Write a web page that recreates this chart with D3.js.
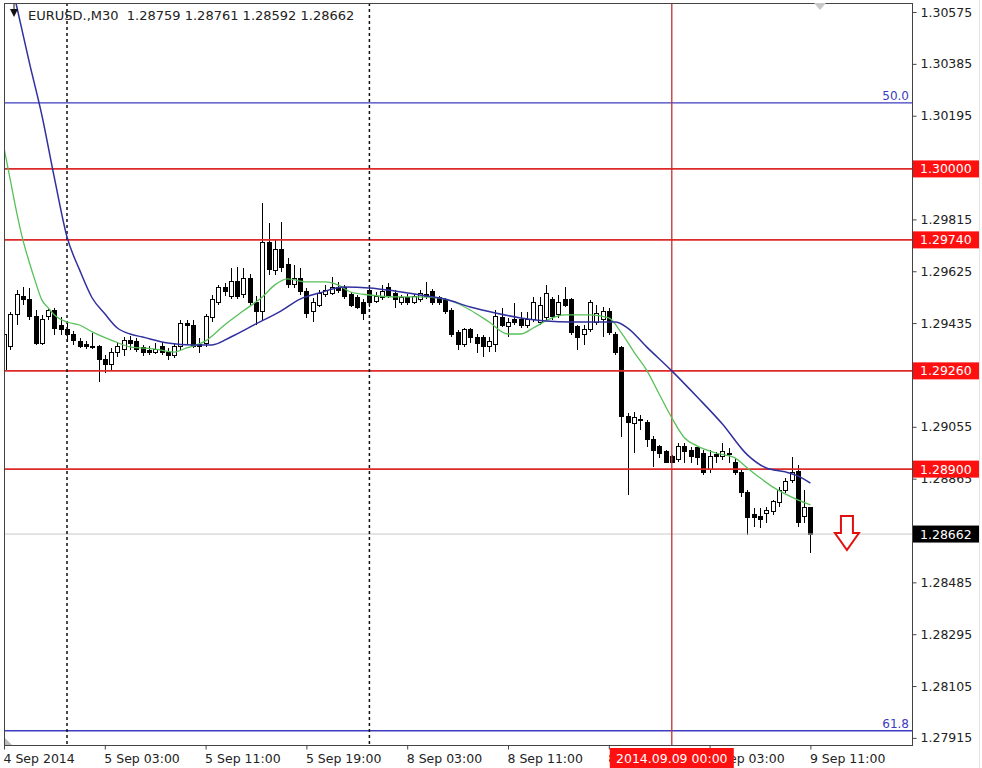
<!DOCTYPE html>
<html><head><meta charset="utf-8">
<script src="https://cdn.jsdelivr.net/npm/d3@7"></script>
<style>body{margin:0;background:#fff}svg{display:block}</style>
</head><body><svg id="c" width="982" height="768"></svg>
<script>
// ---- data (M30 candles, bar index 0 = 4 Sep 19:00 ... 128 = 9 Sep 11:00) ----
const open=[1.29263,1.29348,1.29465,1.29534,1.29520,1.29458,1.29362,1.29458,1.29480,1.29425,
1.29410,1.29395,1.29366,1.29355,1.29351,1.29348,1.29300,1.29282,1.29329,1.29337,
1.29370,1.29366,1.29344,1.29333,1.29329,1.29351,1.29329,1.29315,1.29348,1.29432,
1.29428,1.29355,1.29359,1.29454,1.29512,1.29564,1.29534,1.29586,1.29538,1.29600,
1.29512,1.29476,1.29732,1.29626,1.29703,1.29648,1.29575,1.29600,1.29549,1.29476,
1.29501,1.29538,1.29545,1.29567,1.29564,1.29538,1.29527,1.29512,1.29553,1.29516,
1.29527,1.29564,1.29545,1.29512,1.29527,1.29512,1.29520,1.29538,1.29549,1.29527,
1.29520,1.29483,1.29399,1.29355,1.29410,1.29384,1.29384,1.29348,1.29355,1.29454,
1.29421,1.29447,1.29447,1.29428,1.29447,1.29439,1.29454,1.29520,1.29465,1.29520,
1.29520,1.29421,1.29392,1.29410,1.29439,1.29447,1.29476,1.29392,1.29344,1.29091,
1.29066,1.29080,1.29069,1.29007,1.28981,1.28963,1.28945,1.28934,1.28981,1.28970,
1.28978,1.28959,1.28897,1.28952,1.28945,1.28959,1.28926,1.28886,1.28816,1.28732,
1.28728,1.28736,1.28743,1.28776,1.28823,1.28860,1.28890,1.28725,1.28759];
const high=[1.29410,1.29476,1.29556,1.29567,1.29564,1.29483,1.29465,1.29491,1.29491,1.29458,
1.29436,1.29406,1.29381,1.29370,1.29399,1.29355,1.29318,1.29344,1.29366,1.29384,
1.29388,1.29381,1.29355,1.29351,1.29362,1.29366,1.29344,1.29362,1.29447,1.29447,
1.29447,1.29381,1.29469,1.29538,1.29575,1.29582,1.29637,1.29641,1.29637,1.29615,
1.29534,1.29875,1.29802,1.29740,1.29806,1.29674,1.29648,1.29637,1.29564,1.29527,
1.29556,1.29575,1.29604,1.29586,1.29575,1.29549,1.29538,1.29523,1.29567,1.29549,
1.29575,1.29582,1.29556,1.29538,1.29542,1.29542,1.29556,1.29586,1.29560,1.29534,
1.29527,1.29491,1.29410,1.29417,1.29417,1.29395,1.29392,1.29384,1.29483,1.29491,
1.29454,1.29509,1.29476,1.29476,1.29531,1.29531,1.29575,1.29531,1.29538,1.29567,
1.29527,1.29428,1.29428,1.29520,1.29501,1.29494,1.29491,1.29403,1.29351,1.29106,
1.29110,1.29099,1.29080,1.29022,1.28989,1.28970,1.28952,1.28996,1.28996,1.28981,
1.28981,1.28970,1.28970,1.28963,1.28996,1.28978,1.28941,1.28897,1.28823,1.28758,
1.28758,1.28761,1.28787,1.28835,1.28868,1.28945,1.28915,1.28823,1.28761];
const low=[1.29234,1.29337,1.29428,1.29501,1.29447,1.29355,1.29355,1.29447,1.29392,1.29392,
1.29366,1.29355,1.29344,1.29340,1.29340,1.29220,1.29252,1.29263,1.29311,1.29315,
1.29337,1.29329,1.29315,1.29318,1.29322,1.29318,1.29300,1.29307,1.29337,1.29355,
1.29344,1.29326,1.29348,1.29439,1.29501,1.29534,1.29523,1.29523,1.29527,1.29501,
1.29428,1.29447,1.29611,1.29611,1.29622,1.29564,1.29564,1.29538,1.29454,1.29439,
1.29494,1.29531,1.29538,1.29545,1.29523,1.29494,1.29487,1.29447,1.29494,1.29509,
1.29520,1.29527,1.29491,1.29501,1.29501,1.29505,1.29512,1.29523,1.29501,1.29501,
1.29469,1.29384,1.29337,1.29348,1.29362,1.29326,1.29311,1.29329,1.29329,1.29421,
1.29384,1.29428,1.29417,1.29417,1.29439,1.29428,1.29447,1.29447,1.29454,1.29494,
1.29392,1.29337,1.29355,1.29403,1.29428,1.29384,1.29392,1.29318,1.29018,1.28805,
1.28959,1.29044,1.28981,1.28908,1.28941,1.28923,1.28923,1.28926,1.28923,1.28923,
1.28915,1.28879,1.28886,1.28923,1.28934,1.28923,1.28879,1.28798,1.28659,1.28688,
1.28684,1.28703,1.28732,1.28761,1.28813,1.28849,1.28688,1.28703,1.28592];
const close=[1.29392,1.29465,1.29538,1.29520,1.29458,1.29362,1.29447,1.29480,1.29417,1.29410,
1.29392,1.29370,1.29351,1.29348,1.29348,1.29300,1.29285,1.29329,1.29351,1.29370,
1.29362,1.29337,1.29326,1.29329,1.29340,1.29326,1.29318,1.29351,1.29432,1.29425,
1.29351,1.29348,1.29458,1.29523,1.29564,1.29549,1.29586,1.29534,1.29597,1.29512,
1.29476,1.29732,1.29630,1.29703,1.29637,1.29575,1.29600,1.29549,1.29472,1.29512,
1.29545,1.29556,1.29564,1.29556,1.29531,1.29501,1.29494,1.29472,1.29512,1.29534,
1.29549,1.29534,1.29523,1.29527,1.29512,1.29531,1.29545,1.29531,1.29509,1.29509,
1.29476,1.29392,1.29355,1.29410,1.29381,1.29362,1.29348,1.29366,1.29458,1.29428,
1.29439,1.29436,1.29428,1.29447,1.29512,1.29501,1.29545,1.29458,1.29512,1.29501,
1.29399,1.29384,1.29410,1.29509,1.29472,1.29476,1.29399,1.29329,1.29091,1.29069,
1.29088,1.29077,1.29007,1.28970,1.28959,1.28926,1.28926,1.28981,1.28963,1.28945,
1.28941,1.28886,1.28945,1.28945,1.28963,1.28952,1.28886,1.28813,1.28721,1.28721,
1.28717,1.28750,1.28780,1.28823,1.28853,1.28886,1.28703,1.28758,1.28662];

// moving averages (bar index, price)
const maFastBars=[0,1,2,3,4,5,6,7,8,10,12,14,17,20,24,27,29,32,35,38,41,43,45,48,51,53,55,58,62,66,69,71,74,77,80,82,84,87,89,93,96,98,100,102,104,106,108,110,113,116,118,120,122,124,126,128];
const maFastValues=[1.30077,1.29960,1.29842,1.29740,1.29659,1.29586,1.29520,1.29491,1.29465,1.29439,1.29428,1.29403,1.29373,1.29348,1.29340,1.29329,1.29344,1.29370,1.29428,1.29480,1.29531,1.29575,1.29597,1.29586,1.29586,1.29575,1.29549,1.29538,1.29531,1.29531,1.29527,1.29516,1.29483,1.29439,1.29395,1.29395,1.29417,1.29454,1.29465,1.29465,1.29454,1.29399,1.29329,1.29263,1.29175,1.29088,1.29015,1.28985,1.28959,1.28941,1.28904,1.28868,1.28835,1.28809,1.28787,1.28769];
const maSlowBars=[1,2,4,6,8,10,12,14,16,18,20,22,26,30,33,36,40,44,47,50,54,58,62,66,70,74,78,82,86,90,94,97,99,102,106,110,114,118,121,124,126,128];
const maSlowValues=[1.30700,1.30597,1.30392,1.30198,1.29967,1.29751,1.29630,1.29527,1.29469,1.29417,1.29395,1.29384,1.29362,1.29355,1.29355,1.29384,1.29432,1.29480,1.29523,1.29545,1.29567,1.29564,1.29553,1.29538,1.29523,1.29494,1.29472,1.29454,1.29443,1.29439,1.29439,1.29439,1.29417,1.29348,1.29260,1.29165,1.29066,1.28952,1.28904,1.28890,1.28875,1.28849];

const xTickBars=[0,16,32,48,64,80,96,112,128];
const xTickLabels=["4 Sep 2014","5 Sep 03:00","5 Sep 11:00","5 Sep 19:00","8 Sep 03:00","8 Sep 11:00","8 Sep 19:00","9 Sep 03:00","9 Sep 11:00"];
const yTickValues=[1.30575,1.30385,1.30195,1.30005,1.29815,1.29625,1.29435,1.29245,1.29055,1.28865,1.28675,1.28485,1.28295,1.28105,1.27915];
const redLevels=[1.30000,1.29740,1.29260,1.28900];
const fibLevels=[1.30242,1.27941];
const fibLabels=["50.0","61.8"];
const currentPrice=1.28662;
const daySeparatorBars=[10,58];
const cursorBar=106;
const cursorLabel="2014.09.09 00:00";
const titleText="EURUSD.,M30  1.28759 1.28761 1.28592 1.28662";
const arrowBar=133.8, arrowPrice=1.28728;

// ---- layout ----
const L=4,R=912,T=3,B=745;
const FONT='"DejaVu Sans", Verdana, sans-serif';
const svg=d3.select("#c");
svg.append("rect").attr("width",982).attr("height",768).attr("fill","#fff");
const x=d3.scaleLinear().domain([0,128]).range([4,810.4]);
const y=d3.scaleLinear().domain([1.27889,1.30608]).range([B,T]);

svg.append("clipPath").attr("id","pc").append("rect").attr("x",L).attr("y",T).attr("width",R-L).attr("height",B-T);
const plot=svg.append("g").attr("clip-path","url(#pc)");

// candles
const bars=d3.range(open.length);
const cg=plot.append("g").attr("shape-rendering","crispEdges");
cg.selectAll("line").data(bars).join("line")
  .attr("x1",i=>Math.round(x(i))+0.5).attr("x2",i=>Math.round(x(i))+0.5)
  .attr("y1",i=>y(high[i])).attr("y2",i=>y(low[i]))
  .attr("stroke","#000").attr("stroke-width",1);
cg.selectAll("rect").data(bars).join("rect")
  .attr("x",i=>Math.round(x(i))-1.5).attr("width",4)
  .attr("y",i=>y(Math.max(open[i],close[i])))
  .attr("height",i=>Math.max(1,Math.abs(y(open[i])-y(close[i]))))
  .attr("fill",i=>close[i]>=open[i]?"#fff":"#000")
  .attr("stroke","#000").attr("stroke-width",1);

// horizontal levels
plot.selectAll(".fib").data(fibLevels).join("line").attr("class","fib")
  .attr("x1",L).attr("x2",R).attr("y1",d=>y(d)).attr("y2",d=>y(d))
  .attr("stroke","#3c3cc0").attr("stroke-width",1.4);
plot.selectAll(".red").data(redLevels).join("line").attr("class","red")
  .attr("x1",L).attr("x2",R).attr("y1",d=>y(d)).attr("y2",d=>y(d))
  .attr("stroke","#dd2a2a").attr("stroke-width",1.6);
plot.append("line").attr("x1",L).attr("x2",R).attr("y1",y(currentPrice)).attr("y2",y(currentPrice))
  .attr("stroke","#c8c8c8").attr("stroke-width",1);

// verticals
plot.selectAll(".sep").data(daySeparatorBars).join("line").attr("class","sep")
  .attr("x1",d=>x(d)).attr("x2",d=>x(d)).attr("y1",T).attr("y2",B)
  .attr("stroke","#111").attr("stroke-width",1.5).attr("stroke-dasharray","3,3");
plot.append("line").attr("x1",x(cursorBar)).attr("x2",x(cursorBar)).attr("y1",T).attr("y2",B)
  .attr("stroke","#c03030").attr("stroke-width",1.3);

// moving averages
const line=d3.line().x(d=>x(d[0])).y(d=>y(d[1])).curve(d3.curveMonotoneX);
plot.append("path").datum(maFastBars.map((b,i)=>[b,maFastValues[i]]))
  .attr("d",line).attr("fill","none").attr("stroke","#58c058").attr("stroke-width",1.3);
plot.append("path").datum(maSlowBars.map((b,i)=>[b,maSlowValues[i]]))
  .attr("d",line).attr("fill","none").attr("stroke","#30309e").attr("stroke-width",1.5);

// fib labels
svg.selectAll(".fl").data(fibLevels).join("text").attr("class","fl")
  .attr("x",909).attr("y",d=>y(d)-3).attr("text-anchor","end")
  .attr("font-family",FONT).attr("font-size",12).attr("fill","#3c3cc0")
  .text((d,i)=>fibLabels[i]);

// down arrow object
const ax=x(arrowBar), ay=y(arrowPrice);
svg.append("path")
  .attr("d",`M${ax-6},${ay} L${ax+6},${ay} L${ax+6},${ay+17} L${ax+12},${ay+17} L${ax},${ay+34} L${ax-12},${ay+17} L${ax-6},${ay+17} Z`)
  .attr("fill","#fff").attr("stroke","#e01010").attr("stroke-width",2).attr("stroke-linejoin","miter");

// frame
svg.append("rect").attr("x",L+0.5).attr("y",T+0.5).attr("width",R-L).attr("height",B-T)
  .attr("fill","none").attr("stroke","#444").attr("stroke-width",1);
svg.append("line").attr("x1",979.5).attr("x2",979.5).attr("y1",0).attr("y2",768).attr("stroke","#e4e4e4");

// right axis
const ya=svg.append("g").attr("transform",`translate(${R+0.5},0)`)
  .call(d3.axisRight(y).tickValues(yTickValues).tickSize(4).tickPadding(4).tickFormat(d3.format(".5f")));
ya.select(".domain").remove();
ya.selectAll("line").attr("stroke","#444");
ya.selectAll("text").attr("font-family",FONT).attr("font-size",12.5).attr("fill","#222");

// bottom axis
const xa=svg.append("g").attr("transform",`translate(0,${B+0.5})`)
  .call(d3.axisBottom(x).tickValues(xTickBars).tickSize(4).tickFormat((d,i)=>xTickLabels[i]));
xa.select(".domain").remove();
xa.selectAll("line").attr("stroke","#444");
xa.selectAll("text").attr("font-family",FONT).attr("font-size",12.5).attr("fill","#222")
  .attr("text-anchor","start").attr("x",-1).attr("y",9);

// price markers on right axis
const markers=redLevels.map(p=>({p,bg:"#ff1010"})).concat([{p:currentPrice,bg:"#000"}]);
const mg=svg.selectAll(".mk").data(markers).join("g").attr("class","mk")
  .attr("transform",d=>`translate(913,${y(d.p)})`);
mg.append("rect").attr("x",0).attr("y",-8.5).attr("width",66).attr("height",17).attr("fill",d=>d.bg);
mg.append("text").attr("x",7).attr("dy","0.36em").attr("font-family",FONT).attr("font-size",12.5)
  .attr("fill","#fff").text(d=>d3.format(".5f")(d.p));

// time marker on bottom axis
const tx=x(cursorBar);
svg.append("rect").attr("x",tx-62).attr("y",748).attr("width",124).attr("height",20).attr("fill","#ff1010");
svg.append("text").attr("x",tx).attr("y",763).attr("text-anchor","middle").attr("font-family",FONT)
  .attr("font-size",12.5).attr("fill","#fff").text(cursorLabel);

// small UI triangles
svg.append("path").attr("d","M814,3 L826,3 L820,10 Z").attr("fill","#c8c8c8");
svg.append("path").attr("d","M5,738 L5,745 L12,745 Z").attr("fill","#bbb");
svg.append("path").attr("d","M10,9 L18,9 L14,17 Z").attr("fill","#111");
svg.append("line").attr("x1",14).attr("x2",14).attr("y1",4).attr("y2",9).attr("stroke","#111");

// title
svg.append("text").attr("x",28).attr("y",20).attr("font-family",FONT).attr("font-size",13)
  .attr("fill","#222").style("white-space","pre").text(titleText);
</script></body></html>
